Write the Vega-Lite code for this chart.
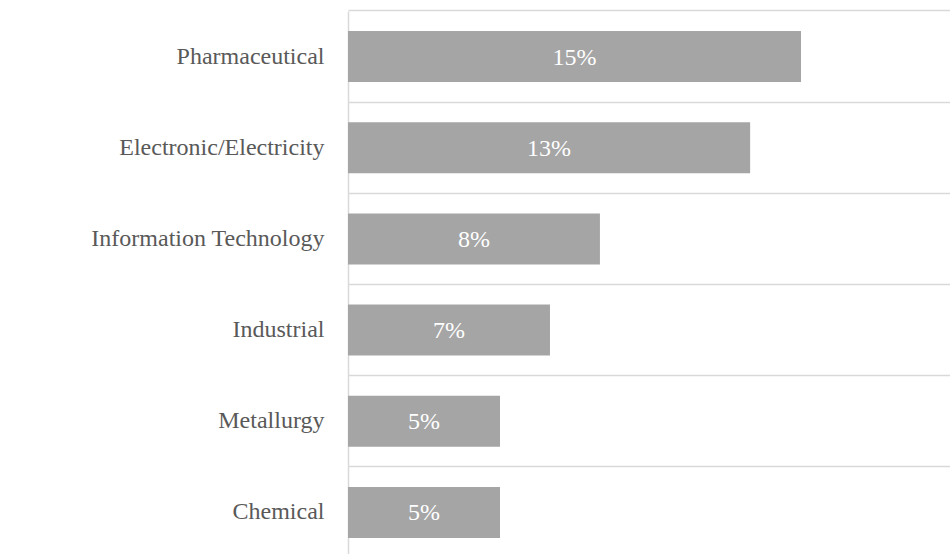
{
  "$schema": "https://vega.github.io/schema/vega-lite/v6.json",
  "autosize": "none",
  "padding": {"left": 348, "top": 11, "right": 0, "bottom": 0},
  "width": 602,
  "height": 547,
  "background": "white",
  "config": {"view": {"stroke": null}},
  "data": {
    "values": [
      {"sector": "Pharmaceutical", "value": 0.1505},
      {"sector": "Electronic/Electricity", "value": 0.1336},
      {"sector": "Information Technology", "value": 0.0837},
      {"sector": "Industrial", "value": 0.0671},
      {"sector": "Metallurgy", "value": 0.0505},
      {"sector": "Chemical", "value": 0.0505}
    ]
  },
  "transform": [{"calculate": "datum.value / 2", "as": "mid"}],
  "encoding": {
    "y": {
      "field": "sector",
      "type": "nominal",
      "sort": null,
      "scale": {"paddingInner": 0.44, "paddingOuter": 0.22},
      "axis": {
        "title": null,
        "bandPosition": -0.393,
        "grid": true,
        "gridColor": "#D9D9D9",
        "gridWidth": 1.5,
        "ticks": false,
        "domain": true,
        "domainColor": "#D9D9D9",
        "domainWidth": 1.5,
        "labelFont": "Liberation Serif",
        "labelFontSize": 24,
        "labelColor": "#595959",
        "labelPadding": 24,
        "labelLimit": 400
      }
    }
  },
  "layer": [
    {
      "mark": {"type": "bar", "color": "#A5A5A5"},
      "encoding": {
        "x": {
          "field": "value",
          "type": "quantitative",
          "scale": {"domain": [0, 0.2], "nice": false},
          "axis": null
        }
      }
    },
    {
      "mark": {"type": "text", "font": "Liberation Serif", "fontSize": 24, "color": "#FFFFFF", "baseline": "middle", "align": "center", "dy": 1},
      "encoding": {
        "x": {"field": "mid", "type": "quantitative"},
        "text": {"field": "value", "type": "quantitative", "format": ".0%"}
      }
    }
  ]
}
